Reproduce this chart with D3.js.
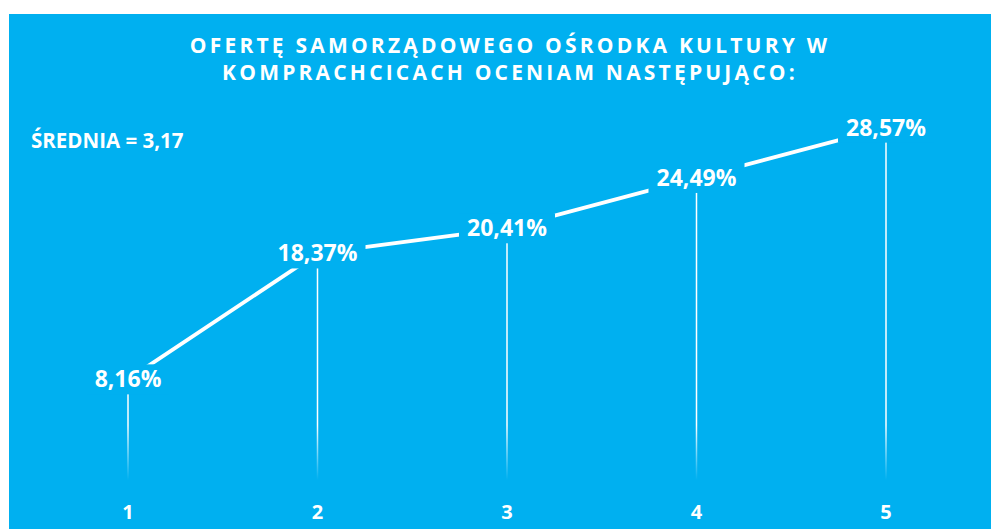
<!DOCTYPE html>
<head>
    <meta charset="utf-8">
    <title>Ocena oferty</title>
    <script src="https://d3js.org/d3.v7.min.js"></script>
    <style>
        body { margin: 0; background: #fff; }
        text { font-family: 'Open Sans', Lato, sans-serif; font-weight: bold; fill: #fff; }
    </style>
</head>
<body>
<script>
    // data
    var categories = ["1", "2", "3", "4", "5"];
    var values = [8.16, 18.37, 20.41, 24.49, 28.57];
    var valueLabels = ["8,16%", "18,37%", "20,41%", "24,49%", "28,57%"];
    var titleLines = ["OFERTĘ SAMORZĄDOWEGO OŚRODKA KULTURY W", "KOMPRACHCICACH OCENIAM NASTĘPUJĄCO:"];
    var meanLabel = "ŚREDNIA = 3,17";

    var width = 991,
        height = 529,
        blue = "#00b0f0";

    var svg = d3.select("body").append("svg")
        .attr("width", width)
        .attr("height", height);

    svg.append("rect")
        .attr("x", 9).attr("y", 14)
        .attr("width", width - 9).attr("height", height - 14)
        .attr("fill", blue);

    var x = d3.scalePoint()
        .domain(categories)
        .range([128, 886]);

    var y = d3.scaleLinear()
        .domain([0, 30])
        .range([480, 110]);

    // drop line fade toward the axis
    var grad = svg.append("defs").append("linearGradient")
        .attr("id", "fade")
        .attr("gradientUnits", "userSpaceOnUse")
        .attr("x1", 0).attr("x2", 0)
        .attr("y1", 425).attr("y2", y(0));
    grad.append("stop").attr("offset", "0%").attr("stop-color", "#fff").attr("stop-opacity", 1);
    grad.append("stop").attr("offset", "100%").attr("stop-color", "#fff").attr("stop-opacity", 0);

    // title
    svg.append("text")
        .attr("x", 510).attr("y", 53)
        .attr("text-anchor", "middle")
        .style("font-size", "21px")
        .style("letter-spacing", "3.2px")
        .selectAll("tspan")
        .data(titleLines)
        .enter().append("tspan")
        .attr("x", 510)
        .attr("dy", function (d, i) { return i ? 27 : 0; })
        .text(function (d) { return d; });

    svg.append("text")
        .attr("x", 31).attr("y", 148)
        .style("font-size", "20.5px")
        .text(meanLabel);

    var pts = categories.map(function (c, i) {
        return { cat: c, v: values[i], label: valueLabels[i] };
    });

    // drop lines
    svg.selectAll(".drop")
        .data(pts)
        .enter().append("line")
        .attr("class", "drop")
        .attr("x1", function (d) { return x(d.cat); })
        .attr("x2", function (d) { return x(d.cat); })
        .attr("y1", function (d) { return y(d.v); })
        .attr("y2", y(0))
        .attr("stroke", "url(#fade)")
        .attr("stroke-width", 1.5);

    var line = d3.line()
        .x(function (d) { return x(d.cat); })
        .y(function (d) { return y(d.v); });

    svg.append("path")
        .datum(pts)
        .attr("d", line)
        .attr("fill", "none")
        .attr("stroke", "#fff")
        .attr("stroke-width", 3.8);

    // value labels sit on a blue box that hides the line beneath
    var lab = svg.selectAll(".lab")
        .data(pts)
        .enter().append("g")
        .attr("class", "lab")
        .attr("transform", function (d) { return "translate(" + x(d.cat) + "," + y(d.v) + ")"; });

    lab.append("rect")
        .attr("x", function (d) { return d.label.length > 5 ? -48 : -41; })
        .attr("width", function (d) { return d.label.length > 5 ? 96 : 82; })
        .attr("y", -15).attr("height", 30)
        .attr("fill", blue);

    lab.append("text")
        .attr("text-anchor", "middle")
        .attr("y", 8)
        .style("font-size", "23px")
        .text(function (d) { return d.label; });

    svg.selectAll(".cat")
        .data(categories)
        .enter().append("text")
        .attr("class", "cat")
        .attr("x", function (d) { return x(d); })
        .attr("y", 519)
        .attr("text-anchor", "middle")
        .style("font-size", "20px")
        .text(function (d) { return d; });
</script>
</body>
</html>
